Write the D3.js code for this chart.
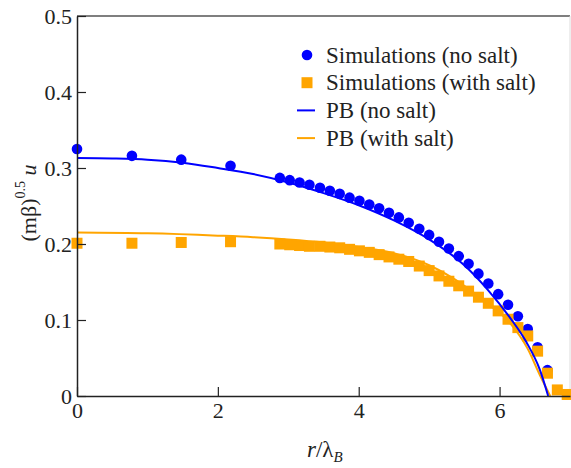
<!DOCTYPE html>
<html>
<head>
<meta charset="utf-8">
<script src="https://cdn.jsdelivr.net/npm/d3@7"></script>
<style>
  body { margin: 0; background: #fff; }
  svg { display: block; font-family: "Liberation Serif", "Times New Roman", serif; }
</style>
</head>
<body>
<div id="chart"></div>
<script>
// simulation points, no salt (r/lambda_B, (m beta)^0.5 u)
const simNoSaltX = [0, 0.78, 1.48, 2.18, 2.88, 3.02, 3.16, 3.30, 3.45, 3.59, 3.73, 3.87, 4.01, 4.15, 4.29, 4.43,
  4.57, 4.71, 4.86, 5.00, 5.14, 5.28, 5.42, 5.56, 5.70, 5.84, 5.98, 6.12, 6.26, 6.40, 6.54, 6.68];
const simNoSaltY = [0.325, 0.316, 0.311, 0.303, 0.287, 0.284, 0.281, 0.278, 0.274, 0.270, 0.266, 0.261, 0.257, 0.252, 0.247, 0.241,
  0.235, 0.228, 0.220, 0.212, 0.203, 0.194, 0.184, 0.174, 0.161, 0.148, 0.134, 0.120, 0.105, 0.088, 0.064, 0.034];

// simulation points, with salt
const simSaltX = [0, 0.78, 1.48, 2.18, 2.88, 3.02, 3.16, 3.30, 3.45, 3.59, 3.73, 3.87, 4.01, 4.15, 4.29, 4.43,
  4.57, 4.71, 4.86, 5.00, 5.14, 5.28, 5.42, 5.56, 5.70, 5.84, 5.98, 6.12, 6.26, 6.40, 6.54, 6.68, 6.82, 6.96];
const simSaltY = [0.201, 0.201, 0.202, 0.203, 0.200, 0.199, 0.198, 0.197, 0.197, 0.196, 0.195, 0.193, 0.191, 0.189, 0.186, 0.183,
  0.180, 0.177, 0.171, 0.165, 0.158, 0.151, 0.145, 0.138, 0.130, 0.122, 0.112, 0.101, 0.090, 0.079, 0.059, 0.030, 0.008, 0.002];

// Poisson-Boltzmann curves
const pbNoSaltX = [0, 0.5, 1.0, 1.5, 2.0, 2.5, 3.0, 3.5, 4.0, 4.5, 5.0, 5.5, 5.83, 6.14, 6.38, 6.57, 6.69];
const pbNoSaltY = [0.313, 0.3125, 0.311, 0.307, 0.300, 0.292, 0.281, 0.267, 0.251, 0.231, 0.206, 0.172, 0.140, 0.104, 0.071, 0.035, 0];
const pbSaltX = [0, 1.0, 2.0, 2.5, 3.0, 3.5, 4.0, 4.5, 5.0, 5.5, 5.85, 6.14, 6.4, 6.57, 6.72];
const pbSaltY = [0.215, 0.214, 0.211, 0.209, 0.206, 0.202, 0.196, 0.188, 0.172, 0.145, 0.120, 0.097, 0.062, 0.028, 0];

const xTicks = [0, 2, 4, 6];
const yTicks = [0, 0.1, 0.2, 0.3, 0.4, 0.5];

const legendLabels = ["Simulations (no salt)", "Simulations (with salt)", "PB (no salt)", "PB (with salt)"];
const legendKinds = ["circle", "square", "line", "line"];
const legendColors = ["#0000ff", "#ffa500", "#0000ff", "#ffa500"];

const width = 571, height = 468;
const margin = { top: 16, right: 1, bottom: 72, left: 77 };
const w = width - margin.left - margin.right;
const h = height - margin.top - margin.bottom;

const svg = d3.select('#chart').append('svg')
  .attr('width', width)
  .attr('height', height);

const x = d3.scaleLinear().domain([0, 7]).range([0, w]);
const y = d3.scaleLinear().domain([0, 0.5]).range([h, 0]);

const g = svg.append('g').attr('transform', `translate(${margin.left},${margin.top})`);

// frame
g.append('line').attr('x1', 0).attr('x2', w).attr('y1', 0).attr('y2', 0)
  .attr('stroke', '#555').attr('stroke-width', 1.5);
g.append('line').attr('x1', w).attr('x2', w).attr('y1', 0).attr('y2', h)
  .attr('stroke', '#ddd').attr('stroke-width', 1);

// points
g.append('g').selectAll('circle').data(simNoSaltX)
  .join('circle')
  .attr('cx', d => x(d))
  .attr('cy', (d, i) => y(simNoSaltY[i]))
  .attr('r', 5.3)
  .attr('fill', '#0000ff');

const sq = 11;
g.append('g').selectAll('rect').data(simSaltX)
  .join('rect')
  .attr('x', d => x(d) - sq / 2)
  .attr('y', (d, i) => y(simSaltY[i]) - sq / 2)
  .attr('width', sq)
  .attr('height', sq)
  .attr('fill', '#ffa500');

// PB curves
const line = d3.line().x(d => x(d[0])).y(d => y(d[1])).curve(d3.curveMonotoneX);
g.append('path')
  .datum(pbSaltX.map((d, i) => [d, pbSaltY[i]]))
  .attr('d', line)
  .attr('fill', 'none')
  .attr('stroke', '#ffa500')
  .attr('stroke-width', 2);
g.append('path')
  .datum(pbNoSaltX.map((d, i) => [d, pbNoSaltY[i]]))
  .attr('d', line)
  .attr('fill', 'none')
  .attr('stroke', '#0000ff')
  .attr('stroke-width', 2);

// axes, ticks pointing inward
const xAxis = g.append('g')
  .attr('transform', `translate(0,${h})`)
  .call(d3.axisBottom(x).tickValues(xTicks).tickSize(-9).tickPadding(6).tickSizeOuter(0).tickFormat(d3.format('d')));
const yAxis = g.append('g')
  .call(d3.axisLeft(y).tickValues(yTicks).tickSize(-9).tickPadding(5).tickSizeOuter(0)
    .tickFormat(d => d === 0 ? '0' : d3.format('.1f')(d)));

[xAxis, yAxis].forEach(a => {
  a.selectAll('.domain').attr('stroke', '#222').attr('stroke-width', 1.5);
  a.selectAll('.tick line').attr('stroke', '#222').attr('stroke-width', 1.2);
  a.selectAll('.tick text').attr('font-size', 22).attr('fill', '#222')
    .attr('font-family', '"Liberation Serif", serif');
});

// axis titles
const xl = svg.append('text')
  .attr('x', 307)
  .attr('y', 457)
  .attr('font-size', 23)
  .attr('fill', '#222');
xl.append('tspan').attr('font-style', 'italic').text('r');
xl.append('tspan').text('/λ');
xl.append('tspan').attr('font-style', 'italic').attr('font-size', 15).attr('dy', 5).text('B');

const yl = svg.append('text')
  .attr('transform', 'translate(36,203) rotate(-90)')
  .attr('text-anchor', 'middle')
  .attr('font-size', 22)
  .attr('fill', '#222');
yl.append('tspan').text('(mβ)');
yl.append('tspan').attr('font-size', 14).attr('dy', -11).text('0.5');
yl.append('tspan').attr('dy', 11).text(' ');
yl.append('tspan').attr('font-style', 'italic').text('u');

// legend
const legend = svg.append('g').attr('transform', 'translate(307,55)');
const rows = legend.selectAll('g').data(legendLabels)
  .join('g')
  .attr('transform', (d, i) => `translate(0,${i * 27.7})`);
rows.each(function(d, i) {
  const r = d3.select(this);
  if (legendKinds[i] === 'circle') {
    r.append('circle').attr('r', 5.3).attr('fill', legendColors[i]);
  } else if (legendKinds[i] === 'square') {
    r.append('rect').attr('x', -5.5).attr('y', -5.5).attr('width', 11).attr('height', 11).attr('fill', legendColors[i]);
  } else {
    r.append('line').attr('x1', -10).attr('x2', 8).attr('stroke', legendColors[i]).attr('stroke-width', 2);
  }
});
rows.append('text')
  .attr('x', 19)
  .attr('y', 7.5)
  .attr('font-size', 23)
  .attr('fill', '#222')
  .text(d => d);
</script>
</body>
</html>
